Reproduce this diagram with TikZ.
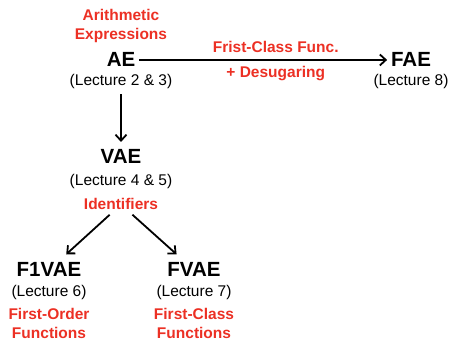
\documentclass[tikz,border=0pt]{standalone}
\usepackage{fontspec}
\setmainfont{Liberation Sans}
\usepackage{xcolor}
\usetikzlibrary{arrows.meta,positioning}

\definecolor{featred}{RGB}{236,48,36}

\begin{document}
\begin{tikzpicture}[->, >={Straight Barb[length=6pt,width=11pt]}, line width=1.8pt, x=1pt, y=-1pt, inner sep=1pt]
\useasboundingbox (0,0) rectangle (451,342);
\tikzstyle{lang}=[font=\fontsize{20.5}{20.5}\selectfont\bfseries, anchor=base]
\tikzstyle{lect}=[font=\fontsize{15.5}{16}\selectfont, anchor=base]
\tikzstyle{feat}=[font=\fontsize{15.5}{19.5}\selectfont\bfseries, text=featred, align=center]

\node [lang] (ae) at (121,67) {AE};
\node [lect] (ae-l) at (121,86) {(Lecture 2 \& 3)};
\node [feat, anchor=base] (ae-f) at (121,40) {Arithmetic\\Expressions};

\node [lang] (fae) at (411,67) {FAE};
\node [lect] (fae-l) at (411,86) {(Lecture 8)};

\node [lang] (vae) at (121,164) {VAE};
\node [lect] (vae-l) at (121,186) {(Lecture 4 \& 5)};
\node [feat, anchor=base] (vae-f) at (121,210) {Identifiers};

\node [lang] (f1vae) at (49,277) {F1VAE};
\node [lect] (f1vae-l) at (49,297) {(Lecture 6)};
\node [feat, anchor=base] (f1vae-f) at (49,339) {First-Order\\Functions};

\node [lang] (fvae) at (194,277) {FVAE};
\node [lect] (fvae-l) at (194,297) {(Lecture 7)};
\node [feat, anchor=base] (fvae-f) at (194,339) {First-Class\\Functions};

\path
(ae) edge [shorten <=2pt, shorten >=2pt] node [feat, above=5pt, pos=0.55] {Frist-Class Func.} node [feat, below=4pt, pos=0.55] {+ Desugaring} (fae)
(ae-l) edge [shorten <=3pt, shorten >=6pt] (vae)
(vae-f) edge [shorten <=4pt, shorten >=10pt] (f1vae)
(vae-f) edge [shorten <=4pt, shorten >=10pt] (fvae);

\end{tikzpicture}
\end{document}
